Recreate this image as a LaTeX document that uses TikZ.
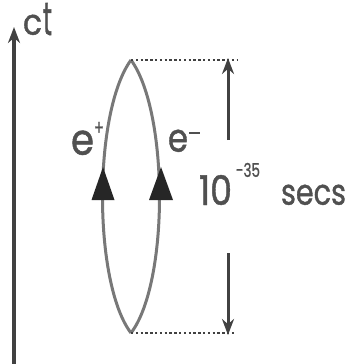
\documentclass[tikz,border=0pt]{standalone}
\usepackage{fontspec}
\usepackage{graphicx}
\setmainfont{Poppins}
\newfontfamily\lblfont[FakeBold=1.2]{Poppins}
\usetikzlibrary{arrows.meta}
\definecolor{linegray}{RGB}{120,120,120}
\definecolor{darkgray}{RGB}{65,65,65}
\definecolor{textgray}{RGB}{80,80,80}
\tikzset{
  wline/.style={draw=linegray, line width=3pt},
  axisline/.style={draw=darkgray, line width=3.2pt, -{Stealth[length=16pt,width=12pt]}},
  timearrow/.style={draw=darkgray, line width=3pt, -{Stealth[length=16pt,width=12pt]}},
  dotline/.style={draw=darkgray, line width=2.4pt, dash pattern=on 2.4pt off 2.4pt},
  tri/.style={fill=black!85, draw=none},
  lbl/.style={inner sep=0pt, outer sep=0pt, text=textgray, anchor=south west, font=\lblfont\fontsize{30}{30}\selectfont},
}
\begin{document}
\begin{tikzpicture}[x=1pt,y=-1pt]
\useasboundingbox (0,0) rectangle (348,364);
% time axis
\coordinate (axB) at (14,364);
\coordinate (axT) at (14,27);
\draw[axisline] (axB) -- (axT);
\node[lbl] (c) at (23,35) {\resizebox{19pt}{20pt}{c}};
\node[lbl] (t) at (43,35) {\resizebox{9pt}{32pt}{t}};
% loop
\coordinate (top) at (131,60);
\coordinate (bot) at (131,333);
\draw[wline] (top) .. controls (93,112) and (93,283) .. (bot);
\draw[wline] (top) .. controls (169,112) and (169,283) .. (bot);
% arrow triangles
\fill[tri] (103,167) -- (114.5,200) -- (91.5,200) -- cycle;
\fill[tri] (161,167) -- (173,200) -- (149,200) -- cycle;
% labels
\node[lbl] (ep) at (71,155) {\resizebox{23pt}{24pt}{e}};
\node[lbl] (epp) at (94,135) {\resizebox{10pt}{13pt}{+}};
\node[lbl] (em) at (168,152) {\resizebox{20pt}{22pt}{e}};
\node[lbl] (emm) at (189,134) {\resizebox{11pt}{2.4pt}{\rule{1em}{0.1em}}};
% dotted lines
\coordinate (dT) at (238,60);
\coordinate (dB) at (236,333);
\draw[dotline] (top) -- (dT);
\draw[dotline] (bot) -- (dB);
% time arrows
\coordinate (aUs) at (228,140);
\coordinate (aUe) at (228,58);
\coordinate (aDs) at (228,253);
\coordinate (aDe) at (228,335);
\draw[timearrow] (aUs) -- (aUe);
\draw[timearrow] (aDs) -- (aDe);
\node[lbl] (ten) at (199,205) {\resizebox{33pt}{30pt}{10}};
\node[lbl] (exp) at (236,177) {\resizebox{24pt}{14pt}{-35}};
\node[lbl] (secs) at (281,205) {\resizebox{65pt}{20pt}{secs}};
\end{tikzpicture}
\end{document}
